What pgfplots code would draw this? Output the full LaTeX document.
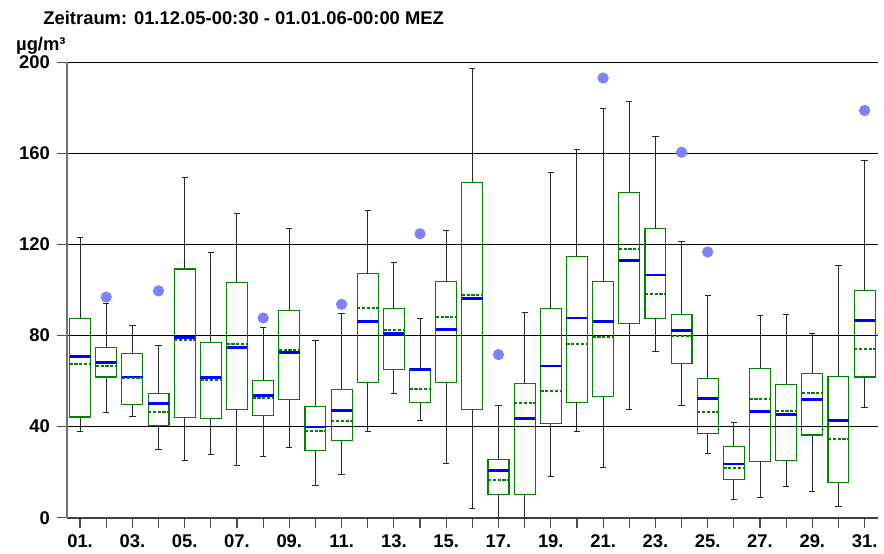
\documentclass[border=0pt]{standalone}
\usepackage{fontspec}
\setmainfont{Liberation Sans}
\usepackage{pgfplots}
\pgfplotsset{compat=1.18}
\usepgfplotslibrary{statistics}
\definecolor{boxgreen}{RGB}{0,130,0}
\definecolor{medblue}{RGB}{0,0,255}
\definecolor{outblue}{RGB}{128,128,255}

% one box: day, lower whisker, lower quartile, median, mean, upper quartile, upper whisker
\newcommand{\bx}[7]{\addplot[boxplot prepared={draw position=#1,
  lower whisker=#2, lower quartile=#3, median=#4, average=#5,
  upper quartile=#6, upper whisker=#7}] coordinates {};}

\begin{document}
\begin{tikzpicture}
\begin{axis}[
    name=ax,
    scale only axis, width=405.35pt, height=227.7pt,
    xmin=0.5, xmax=31.5, ymin=0, ymax=200,
    axis x line*=bottom, axis y line*=left,
    x axis line style={-, draw=black!75, line width=1pt},
    y axis line style={-, draw=black!55, line width=0.8pt},
    xtick={1,...,31},
    xticklabels={01.,,03.,,05.,,07.,,09.,,11.,,13.,,15.,,17.,,19.,,21.,,23.,,25.,,27.,,29.,,31.},
    ytick={0,40,...,200},
    ymajorgrids, grid style={black, line width=0.5pt},
    tick align=outside, major tick length=5pt,
    tick style={black!70, line width=0.6pt},
    tick label style={font=\fontsize{9.2}{11}\selectfont\bfseries},
    /pgf/number format/assume math mode=true,
    boxplot/draw direction=y,
    boxplot/box extend=0.8,
    boxplot/whisker extend=0.24,
    boxplot/every box/.style={draw=boxgreen, line width=0.55pt},
    boxplot/every median/.style={draw=medblue, line width=1.4pt},
    boxplot/every average/.style={draw=boxgreen, line width=1pt, dash pattern=on 1.6pt off 0.8pt},
    boxplot/every whisker/.style={draw=black!85, line width=0.5pt},
    boxplot/draw/average/.code={%
      \draw[/pgfplots/boxplot/every average/.try]
        (boxplot box cs:\pgfplotsboxplotvalue{average},0) --
        (boxplot box cs:\pgfplotsboxplotvalue{average},1);},
]
\bx{1}{37.9}{44.2}{70.9}{67.5}{87.6}{123.0}
\bx{2}{46.1}{61.8}{68.2}{66.8}{74.7}{93.9}
\bx{3}{44.5}{49.8}{61.8}{61.5}{72.2}{84.2}
\bx{4}{30.0}{40.4}{50.1}{46.3}{54.6}{75.7}
\bx{5}{25.3}{43.9}{79.1}{77.9}{109.2}{149.2}
\bx{6}{27.7}{43.5}{61.4}{60.3}{77.0}{116.6}
\bx{7}{23.0}{47.7}{74.8}{76.4}{103.2}{133.4}
\bx{8}{27.0}{44.7}{53.8}{52.4}{60.3}{83.5}
\bx{9}{30.7}{51.8}{72.6}{73.8}{90.9}{126.8}
\bx{10}{14.2}{29.4}{39.8}{38.2}{48.8}{77.7}
\bx{11}{19.0}{34.0}{47.0}{42.6}{56.4}{89.8}
\bx{12}{37.8}{59.3}{86.1}{92.0}{107.3}{135.0}
\bx{13}{54.6}{64.9}{80.8}{82.6}{92.0}{111.9}
\bx{14}{42.5}{50.7}{65.0}{56.7}{65.3}{87.4}
\bx{15}{23.7}{59.5}{82.6}{88.0}{103.8}{126.0}
\bx{16}{4.0}{47.4}{96.2}{97.9}{147.3}{197.2}
\bx{17}{0.0}{10.3}{20.6}{16.4}{25.6}{49.1}
\bx{18}{0.0}{10.0}{43.5}{50.2}{58.9}{89.9}
\bx{19}{18.3}{41.2}{66.6}{55.6}{91.8}{151.5}
\bx{20}{37.8}{50.7}{87.7}{76.4}{114.8}{161.8}
\bx{21}{22.1}{53.1}{86.1}{79.4}{103.8}{179.9}
\bx{22}{47.6}{85.2}{113.0}{118.0}{143.0}{182.7}
\bx{23}{72.9}{87.4}{106.6}{98.2}{126.9}{167.5}
\bx{24}{49.2}{67.9}{82.3}{79.8}{89.2}{121.1}
\bx{25}{28.3}{36.9}{52.4}{46.4}{61.0}{97.5}
\bx{26}{8.1}{16.7}{23.6}{21.8}{31.4}{41.7}
\bx{27}{8.8}{24.8}{46.7}{52.3}{65.4}{88.9}
\bx{28}{13.8}{25.2}{45.4}{46.9}{58.3}{89.3}
\bx{29}{11.7}{36.3}{51.8}{54.9}{63.5}{81.0}
\bx{30}{4.8}{15.5}{42.6}{34.4}{62.1}{110.7}
\bx{31}{48.2}{61.8}{86.5}{74.1}{99.7}{156.7}
% outliers
\addplot[only marks, color=outblue, mark=*, mark size=2.6pt,
  mark options={draw=none, fill=outblue}]
  coordinates {(2,96.9) (4,99.6) (8,87.7) (11,93.7) (14,124.7) (17,71.6)
               (21,193.1) (24,160.5) (25,116.7) (31,178.8)};
\end{axis}
\node[anchor=base west, inner sep=0pt, font=\fontsize{9.2}{11}\selectfont\bfseries]
  at ([xshift=-12pt, yshift=18.65pt]ax.north west)
  {Zeitraum: 01.12.05-00:30 - 01.01.06-00:00 MEZ};
\node[anchor=base east, inner sep=0pt, font=\fontsize{9.2}{11}\selectfont\bfseries]
  at ([xshift=-0.5pt, yshift=5.8pt]ax.north west) {µg/m³};
\pgfresetboundingbox
\path[use as bounding box] ([xshift=-33.5pt, yshift=-18.15pt]ax.south west)
  rectangle ([xshift=3.15pt, yshift=31.15pt]ax.north east);
\end{tikzpicture}
\end{document}
